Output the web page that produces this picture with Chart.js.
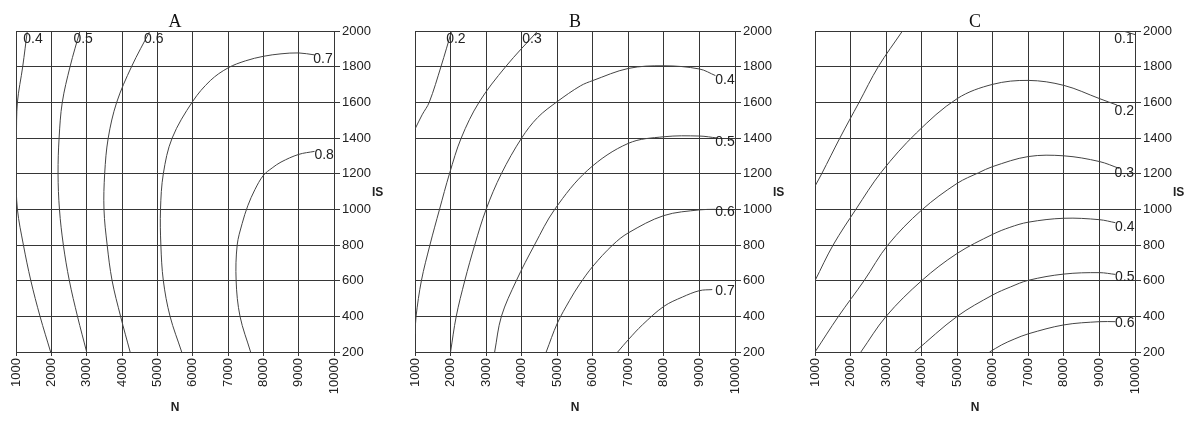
<!DOCTYPE html>
<html><head><meta charset="utf-8">
<script src="https://cdn.jsdelivr.net/npm/chart.js@4.4.1/dist/chart.umd.min.js"></script>
<style>
html,body{margin:0;padding:0;background:#fff;}
#wrap{position:relative;width:1200px;height:426px;}
.box{position:absolute;top:0;width:400px;height:426px;}
</style></head><body>
<div id="wrap">
<div class="box" style="left:0"><canvas id="cA"></canvas></div>
<div class="box" style="left:400px"><canvas id="cB"></canvas></div>
<div class="box" style="left:800px"><canvas id="cC"></canvas></div>
</div>
<script>
// Axis tick values
const nTicks = [1000,2000,3000,4000,5000,6000,7000,8000,9000,10000];
const isTicks = [200,400,600,800,1000,1200,1400,1600,1800,2000];

// Panel A contours: [N, IS]
const A_04 = [[1320,2000],[1190,1800],[1040,1600],[1012,1400],[1000,1200],[1040,1000],[1210,800],[1420,600],[1680,400],[1980,200]];
const A_05 = [[2810,2000],[2530,1800],[2310,1600],[2220,1400],[2190,1200],[2230,1000],[2340,800],[2510,600],[2740,400],[3000,200]];
const A_06 = [[4790,2000],[4270,1800],[3850,1600],[3610,1400],[3510,1200],[3490,1000],[3580,800],[3720,600],[3960,400],[4230,200]];
const A_07 = [[5690,200],[5360,400],[5170,600],[5100,800],[5090,1000],[5170,1200],[5420,1400],[6000,1605],[6500,1722],[7000,1793],[7500,1833],[8000,1858],[8500,1872],[9000,1877],[9450,1866]];
const A_08 = [[7640,200],[7340,400],[7230,600],[7260,800],[7400,920],[7560,1020],[7760,1110],[8000,1190],[8250,1232],[8500,1265],[9000,1308],[9450,1325]];
const A_labels = ['0.4','0.5','0.6','0.7','0.8'];
const A_labelAt = [[1480,1955],[2900,1955],[4900,1955],[9690,1843],[9720,1305]];

// Panel B contours
const B_02 = [[1000,1450],[1200,1530],[1400,1600],[1730,1800],[2030,2000]];
const B_03 = [[1000,300],[1030,400],[1180,600],[1420,800],[1690,1000],[1970,1200],[2300,1400],[2800,1600],[3550,1800],[4450,2000]];
const B_04 = [[2000,200],[2160,400],[2400,600],[2680,800],[3000,1000],[3430,1200],[4000,1400],[4450,1515],[5000,1604],[5650,1692],[6000,1722],[7000,1790],[8000,1805],[9000,1787],[9450,1750]];
const B_05 = [[3240,200],[3430,400],[3850,600],[4360,800],[4930,1000],[5860,1220],[7000,1370],[8000,1407],[9000,1411],[9500,1400]];
const B_06 = [[4690,200],[5000,360],[5350,490],[5630,580],[6000,680],[6560,800],[7000,868],[8000,965],[9000,997],[9450,1000]];
const B_07 = [[6700,200],[7000,269],[7400,353],[8000,456],[8520,508],[9000,544],[9360,550]];
const B_labels = ['0.2','0.3','0.4','0.5','0.6','0.7'];
const B_labelAt = [[2150,1955],[4290,1955],[9720,1725],[9720,1378],[9720,987],[9720,542]];

// Panel C contours
const C_01 = [[1000,1130],[1190,1200],[1700,1400],[2240,1600],[2780,1800],[3460,2000]];
const C_01b = [[9500,2010],[10000,1980]];
const C_02 = [[1000,600],[1510,800],[2150,1000],[2870,1210],[3850,1428],[5000,1621],[6000,1701],[7000,1723],[8000,1695],[9000,1621],[9500,1584]];
const C_03 = [[1000,200],[1660,400],[2380,600],[3050,800],[4000,996],[5000,1146],[5600,1205],[6000,1240],[7000,1296],[8000,1300],[9000,1268],[9550,1230]];
const C_04 = [[2290,200],[3000,400],[4000,600],[5000,753],[6000,860],[6480,899],[7000,928],[8000,950],[9000,942],[9450,925]];
const C_05 = [[3800,200],[5000,400],[6000,520],[6500,565],[7000,602],[8000,637],[9000,645],[9450,635]];
const C_06 = [[5910,200],[6250,240],[6600,272],[7000,302],[8000,352],[9000,370],[9450,370]];
const C_labels = ['0.1','0.2','0.3','0.4','0.5','0.6'];
const C_labelAt = [[9690,1955],[9700,1551],[9700,1204],[9710,901],[9710,621],[9710,363]];

Chart.defaults.font.family = "'Liberation Sans', Arial, sans-serif";
Chart.defaults.color = '#222';

const GRID = '#363636';
const CURVE = '#444';

function ds(arr){
  return {data: arr.map(p=>({x:p[0], y:p[1]})), borderColor: CURVE, borderWidth: 1,
          pointRadius: 0, tension: 0.35, fill: false};
}

const labelPlugin = {
  id: 'contourLabels',
  afterDatasetsDraw(chart, args, opts){
    const ctx = chart.ctx, xs = chart.scales.x, ys = chart.scales.y;
    ctx.save();
    ctx.font = "14px 'Liberation Sans', Arial, sans-serif";
    ctx.fillStyle = '#222';
    ctx.textAlign = 'center';
    ctx.textBaseline = 'middle';
    opts.labels.forEach((t,i)=>{
      const p = opts.at[i];
      ctx.fillText(t, xs.getPixelForValue(p[0]), ys.getPixelForValue(p[1]));
    });
    // IS axis name (horizontal)
    ctx.font = "bold 12px 'Liberation Sans', Arial, sans-serif";
    ctx.textAlign = 'left';
    const ca = chart.chartArea;
    ctx.fillText('IS', ca.right + 38, (ca.top + ca.bottom)/2 + 1);
    ctx.restore();
  }
};

function makeChart(id, title, curves, labels, at, left, right){
  new Chart(document.getElementById(id), {
    type: 'line',
    data: {datasets: curves.map(ds)},
    plugins: [labelPlugin],
    options: {
      responsive: true, maintainAspectRatio: false, animation: false,
      layout: {padding: {left: left, right: 0, top: 0, bottom: 0}},
      plugins: {
        legend: {display: false}, tooltip: {enabled: false},
        title: {display: true, text: title, fullSize: false, color: '#111',
                font: {family: "'Liberation Serif', 'Times New Roman', serif", size: 18, weight: 'normal', lineHeight: 1.0},
                padding: {top: 13, bottom: 0}},
        contourLabels: {labels: labels, at: at}
      },
      scales: {
        x: {type: 'linear', position: 'bottom', min: 1000, max: 10000,
            afterBuildTicks: s => { s.ticks = nTicks.map(v=>({value:v})); },
            afterFit: s => { s.height = 74; },
            ticks: {minRotation: 90, maxRotation: 90, autoSkip: false, padding: 2,
                    font: {size: 13}, color: '#222', callback: v => String(v)},
            grid: {color: GRID, lineWidth: 1, tickLength: 4, tickColor: GRID},
            border: {color: GRID, width: 1},
            title: {display: true, text: 'N', font: {size: 12, weight: 'bold'}, color: '#222', padding: {top: 0, bottom: 11}}},
        y: {type: 'linear', position: 'right', min: 200, max: 2000,
            afterBuildTicks: s => { s.ticks = isTicks.map(v=>({value:v})); },
            afterFit: s => { s.width = 400 - right; },
            ticks: {padding: 2, font: {size: 13}, color: '#222', callback: v => String(v)},
            grid: {color: GRID, lineWidth: 1, tickLength: 6, tickColor: GRID},
            border: {color: GRID, width: 1}}
      }
    }
  });
}

makeChart('cA', 'A', [A_04, A_05, A_06, A_07, A_08], A_labels, A_labelAt, 16, 334);
makeChart('cB', 'B', [B_02, B_03, B_04, B_05, B_06, B_07], B_labels, B_labelAt, 15, 335);
makeChart('cC', 'C', [C_01, C_01b, C_02, C_03, C_04, C_05, C_06], C_labels, C_labelAt, 15, 335);
</script>
</body></html>
